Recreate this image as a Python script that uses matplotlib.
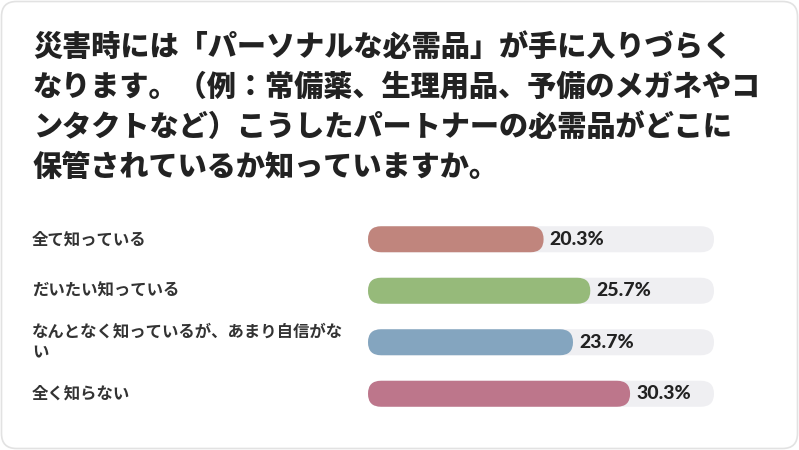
import matplotlib.pyplot as plt
from matplotlib.patches import FancyBboxPatch
from matplotlib.transforms import blended_transform_factory

title_lines = [
    '災害時には「パーソナルな必需品」が手に入りづらく',
    'なります。（例：常備薬、生理用品、予備のメガネやコ',
    'ンタクトなど）こうしたパートナーの必需品がどこに',
    '保管されているか知っていますか。',
]
labels = [
    '全て知っている',
    'だいたい知っている',
    'なんとなく知っているが、あまり自信がな\nい',
    '全く知らない',
]
values = [20.3, 25.7, 23.7, 30.3]
colors = ['#c0857d', '#96ba7a', '#84a5bf', '#bd768b']
track_max = 40

W, H = 799, 450
fig = plt.figure(figsize=(W / 100, H / 100), dpi=100)
fig.patch.set_facecolor('white')

# outer card border
card = FancyBboxPatch((1.5 / W, 1.5 / H), (W - 3) / W, (H - 3) / H,
                      boxstyle='round,pad=0,rounding_size=%f' % (15 / W),
                      mutation_aspect=W / H, transform=fig.transFigure,
                      facecolor='none', edgecolor='#e2e2e2', linewidth=1.2, zorder=-1)
fig.patches.append(card)

jp = ['Noto Sans CJK JP', 'DejaVu Sans']

# title
for k, line in enumerate(title_lines):
    y = 47 + k * 40
    fig.text(33 / W, 1 - y / H, line, fontsize=21, fontweight='black',
             family=jp, color='#222222', va='center', ha='left')

# bar area
ax_left, ax_right = 368, 714
ax_top, ax_bot = 213.5, 419.5
ax = fig.add_axes([ax_left / W, 1 - ax_bot / H, (ax_right - ax_left) / W, (ax_bot - ax_top) / H])
ax.set_xlim(0, track_max)
ax.set_ylim(len(values) - 0.5, -0.5)
ax.axis('off')

px_x = (ax_right - ax_left) / track_max
px_y = (ax_bot - ax_top) / len(values)
bar_h = 26 / px_y
aspect = px_x / px_y
r = 13 / px_x

for i, (v, c) in enumerate(zip(values, colors)):
    ax.add_patch(FancyBboxPatch((0, i - bar_h / 2), track_max, bar_h,
                                boxstyle='round,pad=0,rounding_size=%f' % r,
                                mutation_aspect=aspect, facecolor='#efeff2',
                                edgecolor='none'))
    ax.add_patch(FancyBboxPatch((0, i - bar_h / 2), v, bar_h,
                                boxstyle='round,pad=0,rounding_size=%f' % r,
                                mutation_aspect=aspect, facecolor=c,
                                edgecolor='none'))
    ax.text(v + 6 / px_x, i, f'{v}%', fontsize=14, fontweight='black',
            family=['Lato', 'DejaVu Sans'], color='#222222', va='center', ha='left')

trans = blended_transform_factory(fig.transFigure, ax.transData)
for i, lab in enumerate(labels):
    ax.text(32 / W, i, lab, transform=trans, fontsize=11.8, fontweight='bold',
            family=jp, color='#333333', va='center', ha='left', linespacing=1.2)

fig.savefig('out.png', dpi=100, facecolor='white')
